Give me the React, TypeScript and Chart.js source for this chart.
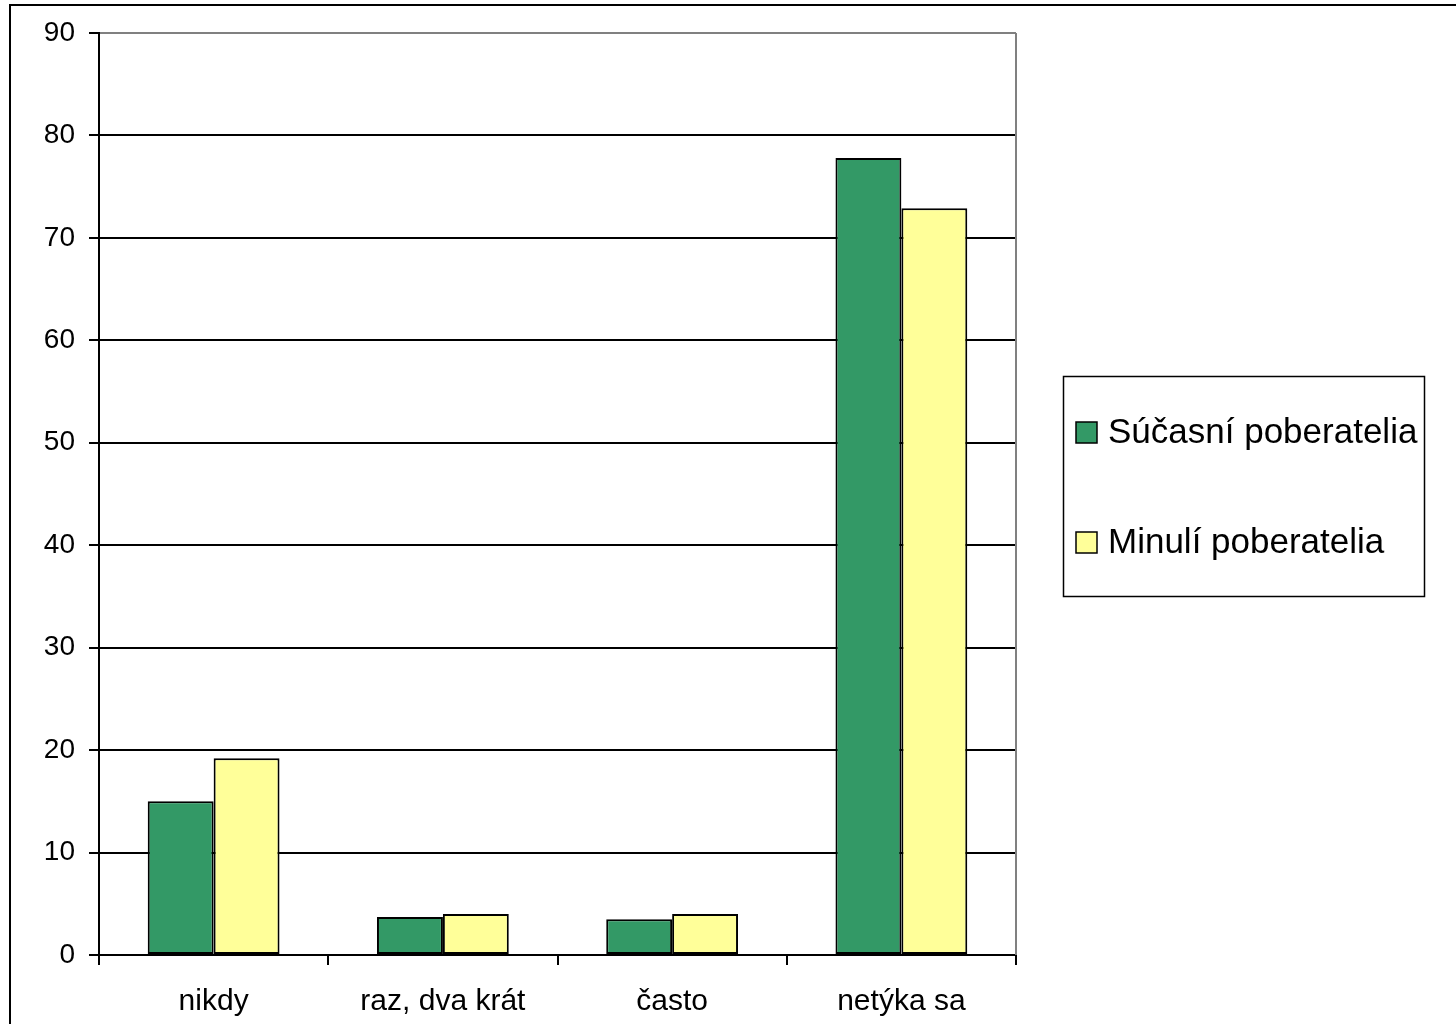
import React, { useEffect, useRef } from "react";
import { Chart, registerables } from "chart.js";

Chart.register(...registerables);

const categories = ["nikdy", "raz, dva krát", "často", "netýka sa"];
const seriesNames = ["Súčasní poberatelia", "Minulí poberatelia"];
const currentValues = [15.0, 3.7, 3.5, 77.8];
const pastValues = [19.2, 4.0, 4.0, 72.9];
const seriesColors = ["#339966", "#FFFF99"];
const yMin = 0;
const yMax = 90;
const yStep = 10;

const FONT = "'Liberation Sans', Arial, sans-serif";

const framePlugin = {
  id: "frameAndLegend",
  beforeDraw(chart: any) {
    const ctx = chart.ctx;
    ctx.save();
    ctx.fillStyle = "#ffffff";
    ctx.fillRect(0, 0, chart.width, chart.height);
    ctx.restore();
  },
  afterDraw(chart: any) {
    const ctx = chart.ctx;
    const ca = chart.chartArea;
    ctx.save();
    // outer frame
    ctx.strokeStyle = "#000000";
    ctx.lineWidth = 2;
    ctx.beginPath();
    ctx.moveTo(10, chart.height + 5);
    ctx.lineTo(10, 5);
    ctx.lineTo(chart.width + 5, 5);
    ctx.stroke();
    // plot-area right border (gray)
    ctx.strokeStyle = "#808080";
    ctx.lineWidth = 2;
    ctx.beginPath();
    ctx.moveTo(ca.right, ca.top);
    ctx.lineTo(ca.right, ca.bottom);
    ctx.stroke();
    // legend
    const lx = 1063, ly = 376, lw = 361, lh = 220;
    ctx.strokeStyle = "#000000";
    ctx.lineWidth = 1.5;
    ctx.strokeRect(lx + 0.5, ly + 0.5, lw, lh);
    const itemsY = [432, 542];
    ctx.font = `35px ${FONT}`;
    ctx.textBaseline = "middle";
    ctx.textAlign = "left";
    seriesNames.forEach((name, i) => {
      const y = itemsY[i];
      ctx.fillStyle = seriesColors[i];
      ctx.fillRect(1076, y - 10, 21, 21);
      ctx.strokeStyle = "#000000";
      ctx.lineWidth = 1.5;
      ctx.strokeRect(1076, y - 10, 21, 21);
      ctx.fillStyle = "#000000";
      ctx.fillText(name, 1108, y + 1);
    });
    ctx.restore();
  },
};

export default function App() {
  const ref = useRef<HTMLCanvasElement | null>(null);
  useEffect(() => {
    if (!ref.current) return;
    const chart = new Chart(ref.current, {
      type: "bar",
      data: {
        labels: categories,
        datasets: [
          {
            label: seriesNames[0],
            data: currentValues,
            backgroundColor: seriesColors[0],
            borderColor: "#000000",
            borderWidth: 2,
            borderSkipped: false,
          },
          {
            label: seriesNames[1],
            data: pastValues,
            backgroundColor: seriesColors[1],
            borderColor: "#000000",
            borderWidth: 2,
            borderSkipped: false,
          },
        ],
      },
      options: {
        animation: false,
        responsive: false,
        maintainAspectRatio: false,
        devicePixelRatio: 1,
        datasets: { bar: { categoryPercentage: 0.575, barPercentage: 1.0 } },
        layout: { padding: { left: 0, top: 33, right: 440, bottom: 0 } },
        plugins: { legend: { display: false }, tooltip: { enabled: false } },
        scales: {
          x: {
            grid: {
              offset: true,
              drawOnChartArea: false,
              drawTicks: true,
              tickLength: 10,
              color: "#000000",
              lineWidth: 2,
            },
            border: { color: "#000000", width: 2 },
            ticks: {
              color: "#000000",
              font: { family: FONT, size: 30 },
              padding: 19,
              maxRotation: 0,
            },
            afterFit(scale: any) {
              scale.height = 69;
            },
          },
          y: {
            min: yMin,
            max: yMax,
            grid: {
              color: (c: any) => (c.tick && c.tick.value === yMax ? "#808080" : "#000000"),
              lineWidth: 2,
              tickLength: 10,
              tickColor: "#000000",
            },
            border: { color: "#000000", width: 2 },
            ticks: {
              stepSize: yStep,
              color: "#000000",
              font: { family: FONT, size: 28 },
              padding: 14,
            },
            afterFit(scale: any) {
              scale.width = 99;
            },
          },
        },
      },
      plugins: [framePlugin],
    });
    return () => chart.destroy();
  }, []);
  return (
    <div style={{ position: "fixed", left: 0, top: 0, width: 1456, height: 1024 }}>
      <canvas ref={ref} width={1456} height={1024} style={{ display: "block" }} />
    </div>
  );
}
